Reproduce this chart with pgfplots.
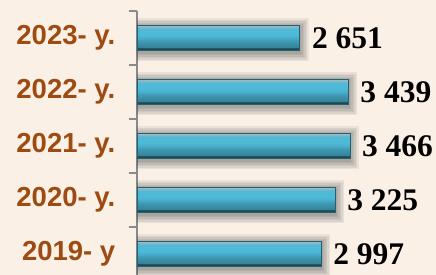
\documentclass[border=0pt]{standalone}
\usepackage{pgfplots}
\pgfplotsset{compat=1.18}
\usepackage{pgfplotstable}
\usepackage{fontspec}
\setmainfont{Liberation Serif}
\newfontfamily\lsans{Liberation Sans}
\definecolor{bgcol}{RGB}{251,240,230}
\definecolor{labcol}{RGB}{158,75,18}
\definecolor{bA}{RGB}{28,73,84}
\definecolor{bB}{RGB}{53,132,154}
\definecolor{bC}{RGB}{62,151,176}
\definecolor{bD}{RGB}{72,174,203}
\definecolor{bE}{RGB}{79,186,215}
\definecolor{bF}{RGB}{140,184,196}
\definecolor{bG}{RGB}{168,184,188}
\definecolor{edgecol}{RGB}{36,96,112}
\definecolor{shcol}{RGB}{40,50,60}
\pgfdeclareverticalshading{barshade}{100bp}{color(0bp)=(bA); color(25bp)=(bA); color(29.5bp)=(bA); color(31.8bp)=(bB); color(43.2bp)=(bC); color(50bp)=(bD); color(56.8bp)=(bE); color(68.2bp)=(bE); color(72.7bp)=(bF); color(75bp)=(bG); color(100bp)=(bG)}
\pgfplotstableread{
y v
0 2997
1 3225
2 3466
3 3439
4 2651
}\data
\pgfplotsset{
  shad/.style={xbar, bar shift=0pt, bar width=25bp, draw=shcol, fill=none, line width=#1, opacity=0.08, yshift=-2bp},
  mybar/.style={xbar, bar shift=0pt, bar width=25bp, draw=edgecol, line width=0.6bp, shading=barshade,
    nodes near coords,
    nodes near coords style={font=\bfseries\fontsize{31.5bp}{34bp}\selectfont, text=black, anchor=west, inner sep=0pt, xshift=12bp,
      /pgf/number format/assume math mode=true, /pgf/number format/1000 sep={\ }}},
}
\begin{document}
\begin{tikzpicture}
\fill[bgcol] (-137bp,0) rectangle (299bp,275bp);
\begin{axis}[
  scale only axis, width=299bp, height=264bp,
  xmin=0, xmax=4870, ymin=-0.389, ymax=4.5,
  axis x line=none, axis y line*=left,
  y axis line style={draw={rgb,255:red,138;green,138;blue,138}, line width=2bp},
  ytick={0,1,2,3,4},
  yticklabels={{2019- y},{2020- y.},{2021- y.\ },{2022- y.},{2023- y.}},
  major tick length=0pt,
  minor ytick={-0.5,0.5,1.5,2.5,3.5,4.5},
  minor tick length=8bp, tick align=outside,
  minor tick style={draw={rgb,255:red,138;green,138;blue,138}, line width=1.6bp},
  yticklabel style={font=\lsans\bfseries\fontsize{27.5bp}{30bp}\selectfont, text=labcol, anchor=east, inner sep=0pt, xshift=-21.5bp},
]
\addplot[shad=18bp] table[x=v,y=y]{\data};
\addplot[shad=15bp] table[x=v,y=y]{\data};
\addplot[shad=12bp] table[x=v,y=y]{\data};
\addplot[shad=9bp] table[x=v,y=y]{\data};
\addplot[shad=6bp] table[x=v,y=y]{\data};
\addplot[shad=3bp] table[x=v,y=y]{\data};
\addplot[mybar] table[x=v,y=y, skip coords between index={1}{5}]{\data};
\addplot[mybar] table[x=v,y=y, skip coords between index={0}{1}, skip coords between index={2}{5}]{\data};
\addplot[mybar] table[x=v,y=y, skip coords between index={0}{2}, skip coords between index={3}{5}]{\data};
\addplot[mybar] table[x=v,y=y, skip coords between index={0}{3}, skip coords between index={4}{5}]{\data};
\addplot[mybar] table[x=v,y=y, skip coords between index={0}{4}]{\data};
\end{axis}
\pgfresetboundingbox
\path[use as bounding box] (-137bp,0) rectangle (299bp,275bp);
\end{tikzpicture}
\end{document}
